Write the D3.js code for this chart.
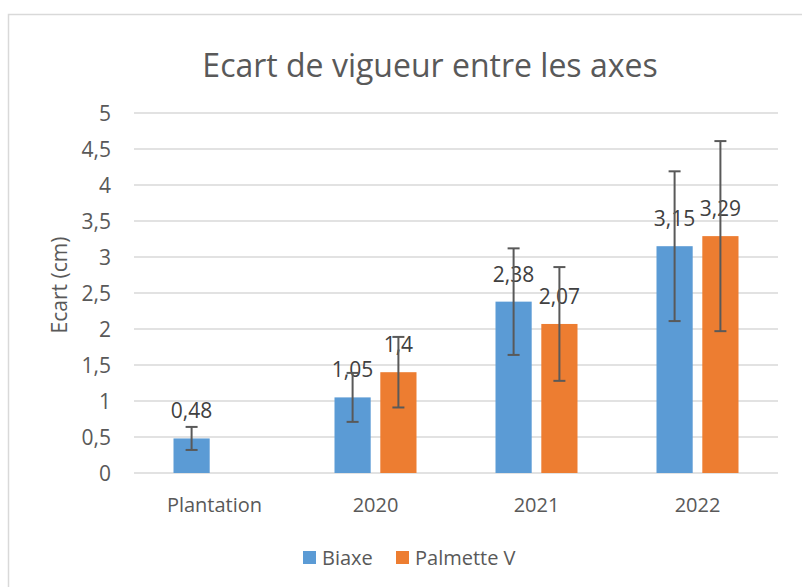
<!DOCTYPE html>
<html>
<head>
<meta charset="utf-8">
<script src="https://cdn.jsdelivr.net/npm/d3@7"></script>
<style>
  body { margin: 0; background: #fff; }
  text { font-family: "Open Sans", "Noto Sans", sans-serif; fill: #595959; }
</style>
</head>
<body>
<div id="chart"></div>
<script>
// categories and series
const categories = ["Plantation", "2020", "2021", "2022"];
const seriesNames = ["Biaxe", "Palmette V"];
const biaxe = [0.48, 1.05, 2.38, 3.15];
const palmette = [null, 1.4, 2.07, 3.29];
// error bar half-widths (standard deviation)
const biaxeErr = [0.16, 0.34, 0.74, 1.04];
const palmetteErr = [null, 0.49, 0.79, 1.32];
const yTicks = [0, 0.5, 1, 1.5, 2, 2.5, 3, 3.5, 4, 4.5, 5];

const width = 802, height = 587;
const colors = ["#5b9bd5", "#ed7d31"];
const fmt = v => String(v).replace(".", ",");

const svg = d3.select("#chart").append("svg")
    .attr("width", width)
    .attr("height", height);

// chart frame
svg.append("rect")
    .attr("x", 8.5).attr("y", 14.5)
    .attr("width", 820).attr("height", 600)
    .attr("fill", "none")
    .attr("stroke", "#d9d9d9")
    .attr("stroke-width", 1.5);

const x = d3.scaleBand().domain(categories).range([134, 778]);
const xs = d3.scaleBand().domain(seriesNames).range([0, 82]).paddingInner(0.21);
const y = d3.scaleLinear().domain([0, 5]).range([473, 113]);

// grid
svg.append("g")
    .selectAll("line")
    .data(yTicks)
    .join("line")
    .attr("x1", 134).attr("x2", 778)
    .attr("y1", d => y(d)).attr("y2", d => y(d))
    .attr("stroke", "#d9d9d9")
    .attr("stroke-width", 1.3);

// y tick labels
svg.append("g")
    .selectAll("text")
    .data(yTicks)
    .join("text")
    .attr("x", 111)
    .attr("y", d => y(d) + 7.5)
    .attr("text-anchor", "end")
    .style("font-size", "21px")
    .text(fmt);

// category labels
svg.append("g")
    .selectAll("text")
    .data(categories)
    .join("text")
    .attr("x", d => x(d) + x.bandwidth() / 2)
    .attr("y", 512)
    .attr("text-anchor", "middle")
    .style("font-size", "20px")
    .text(d => d);

// flatten series into bars
const bars = [];
categories.forEach((c, i) => {
    [[biaxe, biaxeErr], [palmette, palmetteErr]].forEach(([vals, errs], s) => {
        if (vals[i] != null) bars.push({cat: c, s, v: vals[i], e: errs[i]});
    });
});
const bx = d => x(d.cat) + (x.bandwidth() - 82) / 2 + xs(seriesNames[d.s]);

svg.append("g")
    .selectAll("rect")
    .data(bars)
    .join("rect")
    .attr("x", bx)
    .attr("y", d => y(d.v))
    .attr("width", xs.bandwidth())
    .attr("height", d => y(0) - y(d.v))
    .attr("fill", d => colors[d.s]);

// data labels
svg.append("g")
    .selectAll("text")
    .data(bars)
    .join("text")
    .attr("x", d => bx(d) + xs.bandwidth() / 2)
    .attr("y", d => y(d.v) - 20)
    .attr("text-anchor", "middle")
    .style("font-size", "21px")
    .style("fill", "#404040")
    .text(d => fmt(d.v));

// error bars
const eb = svg.append("g")
    .attr("stroke", "#595959")
    .attr("stroke-width", 2);
bars.forEach(d => {
    const cx = bx(d) + xs.bandwidth() / 2;
    eb.append("line")
        .attr("x1", cx).attr("x2", cx)
        .attr("y1", y(d.v + d.e)).attr("y2", y(d.v - d.e));
    [d.v + d.e, d.v - d.e].forEach(v => {
        eb.append("line")
            .attr("x1", cx - 6).attr("x2", cx + 6)
            .attr("y1", y(v)).attr("y2", y(v));
    });
});

// title
svg.append("text")
    .attr("x", 430)
    .attr("y", 77)
    .attr("text-anchor", "middle")
    .style("font-size", "32px")
    .text("Ecart de vigueur entre les axes");

// y axis title
svg.append("text")
    .attr("transform", "translate(67,285) rotate(-90)")
    .attr("text-anchor", "middle")
    .style("font-size", "21px")
    .text("Ecart (cm)");

// legend
const legend = svg.append("g")
    .selectAll("g")
    .data(seriesNames)
    .join("g")
    .attr("transform", (d, i) => `translate(${i === 0 ? 303 : 396},551)`);
legend.append("rect")
    .attr("width", 13).attr("height", 13)
    .attr("fill", (d, i) => colors[i]);
legend.append("text")
    .attr("x", 19).attr("y", 14)
    .style("font-size", "20px")
    .text(d => d);
</script>
</body>
</html>
